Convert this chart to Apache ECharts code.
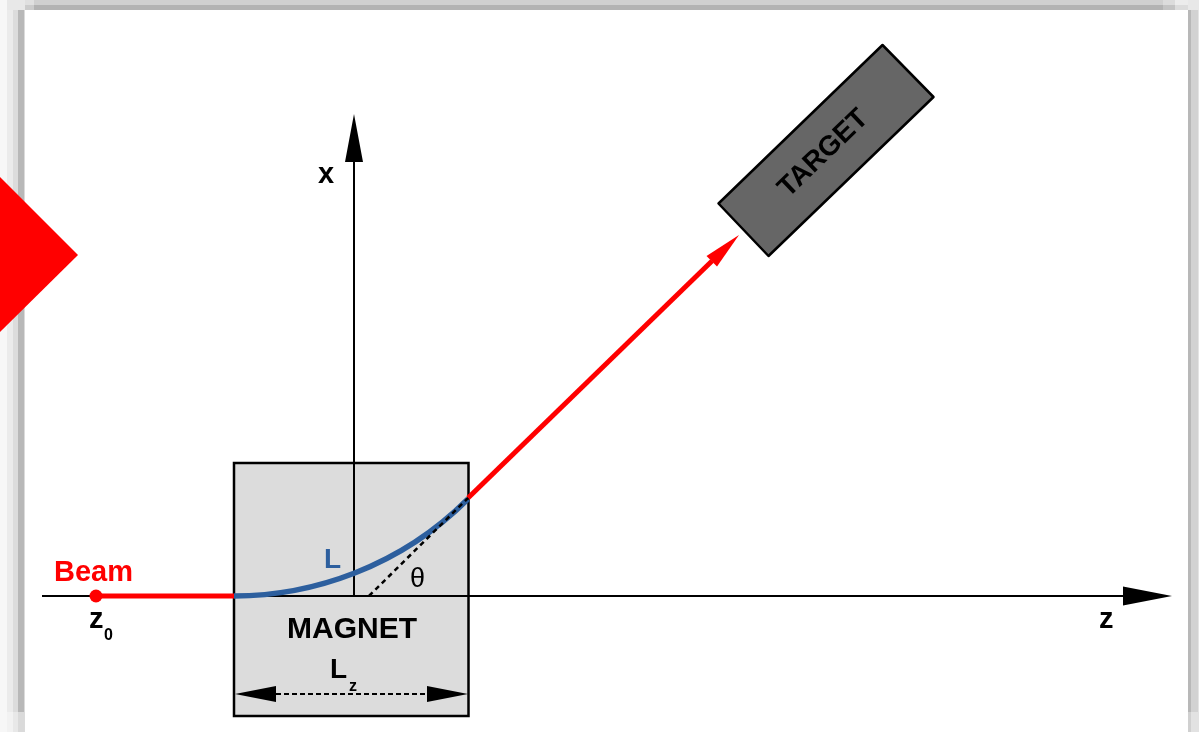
<!DOCTYPE html>
<html><head><meta charset="utf-8">
<style>html,body{margin:0;padding:0;background:#fff;overflow:hidden}#c{width:1199px;height:732px;filter:blur(0.6px)}</style>
<script src="https://cdn.jsdelivr.net/npm/echarts@6/dist/echarts.min.js"></script>
</head><body><div id="c"></div>
<script>
// Diagram values, in picture units (z to the right, x downward on the page)
const frameBands = [
  [0,0,1199,10,'#e8e8e8'],
  [34,0,1163,5,'#d0d0d0'],[34,5,1163,10,'#b3b3b3'],
  [25,0,34,5,'#e0e0e0'],[25,5,34,10,'#cccccc'],
  [1163,0,1175,5,'#dcdcdc'],[1163,5,1175,10,'#c4c4c4'],
  [1175,0,1188,5,'#ececec'],[1175,5,1188,10,'#dcdcdc'],
  [0,0,7,732,'#f7f7f7'],[7,10,13,732,'#ebebeb'],[13,10,18,732,'#dcdcdc'],[18,10,24.5,732,'#b8b8b8'],
  [7,712,13,732,'#f2f2f2'],[13,712,18,732,'#e8e8e8'],[18,712,24.5,732,'#dadada'],
  [1188,10,1191,732,'#b8b8b8'],[1191,10,1198,732,'#d2d2d2'],[1198,10,1199,732,'#e4e4e4'],
  [1188,712,1191,732,'#d0d0d0'],[1191,712,1199,732,'#e2e2e2']
];
const markerDiamond = [[0,177],[78,255],[0,332]];
const magnetBox = [[234,463],[468.5,463],[468.5,716],[234,716]];
const targetBox = [[882.5,45],[933.5,97],[768.5,256],[718.5,203.5]];
const zAxisLine = [[42,596],[1125,596]];
const xAxisLine = [[354,596],[354,160]];
const beamIn = [[96,596],[234,596]];
const beamOut = [[468,498],[712,261]];
const bendCurve = [[234,596],[312,596],[400,567],[468,499]];
const thetaDash = [[369,596],[468,498]];
const lengthDash = [[276,694],[427,694]];
const beamStart = [[96,596]];
const blackHeads = [
  [[1172,596],[1123,586.5],[1123,605.5]],
  [[354,114],[345,162],[363,162]],
  [[235,694],[276,686],[276,702]],
  [[468,694],[427,686],[427,702]]
];
const redHead = [[739,235],[706.5,256],[717,266.5]];
const labelTexts = ['Beam','z','0','L','θ','MAGNET','L','z','x','z','TARGET'];
const labelSpots = [[54,581],[89,628],[104,640.5],[324,568.5],[410,587],[287,638],[330,678.5],[349,691],[318,183],[1099,628],[823.5,153.5]];
const labelSizes = [29,29,16,28,27,30,28,16,29,29,28];
const labelWeights = ['bold','bold','bold','bold','normal','bold','bold','bold','bold','bold','bold'];
const labelColors = ['#ff0000','#000','#000','#2d5f9e','#000','#000','#000','#000','#000','#000','#000'];
const labelTurns = [0,0,0,0,0,0,0,0,0,0,44];

const SANS = '"Liberation Sans", Arial, sans-serif';
function polygonItem(pts, api, style){
  return {type:'polygon', shape:{points:pts.map(p=>api.coord(p))}, style};
}
function polySeries(list, style, z){
  return {type:'custom', coordinateSystem:'cartesian2d', clip:false, silent:true, z,
    data:list.map((_,i)=>[i]),
    encode:{x:0,y:0},
    renderItem:(params,api)=>polygonItem(list[params.dataIndex],api,style)};
}
function lineSeries(data,color,width,z,extra){
  return Object.assign({type:'line',data,symbol:'none',silent:true,clip:false,z,
    lineStyle:Object.assign({color,width,cap:'butt'},extra||{}),animation:false});
}
const chart = echarts.init(document.getElementById('c'),null,{renderer:'canvas'});
chart.setOption({
  animation:false,
  backgroundColor:'#ffffff',
  tooltip:{show:false},
  grid:{left:0,right:0,top:0,bottom:0},
  xAxis:{type:'value',min:0,max:1199,show:false},
  yAxis:{type:'value',min:0,max:732,inverse:true,show:false},
  series:[
    {type:'custom',coordinateSystem:'cartesian2d',clip:false,silent:true,z:1,
     data:frameBands.map((_,i)=>[i]),encode:{x:0,y:0},
     renderItem:(params,api)=>{
       const b=frameBands[params.dataIndex];
       const a=api.coord([b[0],b[1]]),c=api.coord([b[2],b[3]]);
       return {type:'rect',shape:{x:a[0],y:a[1],width:c[0]-a[0],height:c[1]-a[1]},style:{fill:b[4]}};
     }},
    polySeries([markerDiamond],{fill:'#ff0000'},2),
    polySeries([magnetBox],{fill:'#dcdcdc',stroke:'#000',lineWidth:2.5},3),
    polySeries([targetBox],{fill:'#666666',stroke:'#000',lineWidth:2.5,lineJoin:'round'},3),
    lineSeries(zAxisLine,'#000',2,4),
    lineSeries(xAxisLine,'#000',2,4),
    lineSeries(beamIn,'#ff0000',5,5),
    lineSeries(beamOut,'#ff0000',5,5),
    {type:'custom',coordinateSystem:'cartesian2d',clip:false,silent:true,z:6,
     data:[[0]],encode:{x:0,y:0},
     renderItem:(params,api)=>{
       const c=bendCurve.map(p=>api.coord(p));
       return {type:'bezierCurve',
         shape:{x1:c[0][0],y1:c[0][1],cpx1:c[1][0],cpy1:c[1][1],cpx2:c[2][0],cpy2:c[2][1],x2:c[3][0],y2:c[3][1]},
         style:{stroke:'#2d5f9e',lineWidth:5.5,fill:null}};
     }},
    lineSeries(thetaDash,'#000',2.5,7,{type:[5,4]}),
    lineSeries(lengthDash,'#000',2,7,{type:[5,3]}),
    polySeries(blackHeads,{fill:'#000'},8),
    polySeries([redHead],{fill:'#ff0000'},8),
    {type:'scatter',data:beamStart,symbol:'circle',symbolSize:13,silent:true,itemStyle:{color:'#ff0000',opacity:1},z:9},
    {type:'custom',coordinateSystem:'cartesian2d',clip:false,silent:true,z:10,
     data:labelTexts.map((_,i)=>[i]),encode:{x:0,y:0},
     renderItem:(params,api)=>{
       const i=params.dataIndex,p=api.coord(labelSpots[i]),turn=labelTurns[i],size=labelSizes[i];
       return {type:'text',x:p[0],y:turn?p[1]:p[1]+size*0.21,rotation:turn*Math.PI/180,
         style:{text:labelTexts[i],font:labelWeights[i]+' '+size+'px '+SANS,fill:labelColors[i],
           textAlign:turn?'center':'left',verticalAlign:turn?'middle':'bottom'}};
     }}
  ]
});
</script></body></html>
